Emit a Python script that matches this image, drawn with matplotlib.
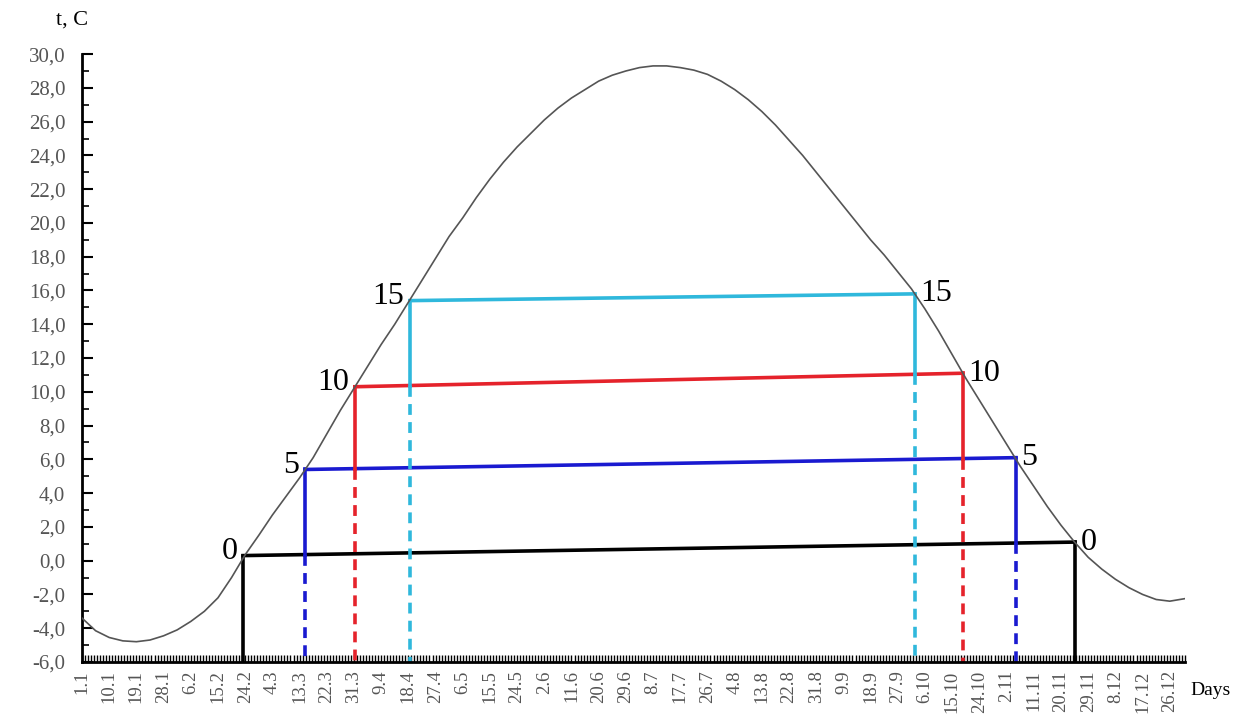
import numpy as np
import matplotlib.pyplot as plt
from matplotlib.ticker import FixedLocator, MultipleLocator, FuncFormatter

plt.rcParams['font.family'] = ['Liberation Serif', 'DejaVu Serif']

# mean daily air temperature every 4.5 days (leap year)
days = list(np.arange(1, 362, 4.5)) + [366]
temp = [-3.4, -4.15, -4.55, -4.75, -4.8, -4.7, -4.45, -4.1, -3.6, -3.0,
        -2.2, -1.0, 0.35, 1.5, 2.7, 3.8, 4.9, 6.1, 7.5, 8.9,
        10.2, 11.5, 12.8, 14.0, 15.3, 16.6, 17.9, 19.2, 20.3, 21.5,
        22.6, 23.6, 24.5, 25.3, 26.1, 26.8, 27.4, 27.9, 28.4, 28.75,
        29.0, 29.2, 29.3, 29.3, 29.2, 29.05, 28.8, 28.4, 27.9, 27.3,
        26.6, 25.8, 24.9, 24.0, 23.0, 22.0, 21.0, 20.0, 19.0, 18.1,
        17.1, 16.1, 14.9, 13.6, 12.2, 10.8, 9.5, 8.2, 6.9, 5.6,
        4.4, 3.2, 2.1, 1.1, 0.2, -0.5, -1.1, -1.6, -2.0, -2.3,
        -2.4, -2.25]

# tick labels every 9 days
tick_days = list(range(1, 362, 9))
tick_labels = ['1.1', '10.1', '19.1', '28.1', '6.2', '15.2', '24.2', '4.3', '13.3',
               '22.3', '31.3', '9.4', '18.4', '27.4', '6.5', '15.5', '24.5', '2.6',
               '11.6', '20.6', '29.6', '8.7', '17.7', '26.7', '4.8', '13.8', '22.8',
               '31.8', '9.9', '18.9', '27.9', '6.10', '15.10', '24.10', '2.11',
               '11.11', '20.11', '29.11', '8.12', '17.12', '26.12']

# threshold periods (0, 5, 10, 15 C): start/end day and line level
thresholds = ['0', '5', '10', '15']
start_day = [54.3, 74.8, 91.3, 109.5]
end_day = [329.6, 310.1, 292.5, 276.6]
start_t = [0.3, 5.4, 10.3, 15.4]
end_t = [1.1, 6.1, 11.1, 15.8]
colors = ['black', '#1a1ad0', '#e5232b', '#2fb8dc']

fig = plt.figure(figsize=(12.35, 7.28), dpi=100)
ax = fig.add_axes([0.0664, 0.0907, 0.893, 0.835])

ax.plot(days, temp, color='#555555', lw=1.2, zorder=3)

for i in range(4):
    c = colors[i]
    ax.plot([start_day[i], end_day[i]], [start_t[i], end_t[i]], color=c, lw=2.6, zorder=2)
    for d, t in [(start_day[i], start_t[i]), (end_day[i], end_t[i])]:
        if i == 0:
            ax.plot([d, d], [t, -6], color=c, lw=2.6, zorder=2)
        else:
            # level of the next lower line at this day
            f = (d - start_day[i-1]) / (end_day[i-1] - start_day[i-1])
            lo = start_t[i-1] + f * (end_t[i-1] - start_t[i-1])
            ax.plot([d, d], [t, lo], color=c, lw=2.6, zorder=2)
            ax.plot([d, d], [lo, -6], color=c, lw=2.6, ls=(0, (3, 2)), zorder=2)
    ax.annotate(thresholds[i], (start_day[i], start_t[i]), xytext=(-4, 3),
                textcoords='offset points', ha='right', va='center', fontsize=23)
    ax.annotate(thresholds[i], (end_day[i], end_t[i]), xytext=(4, 0),
                textcoords='offset points', ha='left', va='center', fontsize=23)

ax.set_xlim(1, 366)
ax.set_ylim(-6, 30)

for s in ['top', 'right']:
    ax.spines[s].set_visible(False)
for s in ['left', 'bottom']:
    ax.spines[s].set_linewidth(2)

ax.xaxis.set_major_locator(FixedLocator(tick_days))
ax.set_xticklabels(tick_labels, rotation=90)
ax.xaxis.set_minor_locator(MultipleLocator(1))
ax.yaxis.set_major_locator(MultipleLocator(2))
ax.yaxis.set_minor_locator(MultipleLocator(1))
ax.yaxis.set_major_formatter(FuncFormatter(lambda v, p: ('%.1f' % v).replace('.', ',')))

ax.tick_params(axis='x', which='both', direction='in', length=5, width=1,
               labelsize=13.5, labelcolor='#555555', pad=6)
ax.tick_params(axis='y', which='major', direction='in', length=8, width=1.5,
               labelsize=15, labelcolor='#555555', pad=12)
ax.tick_params(axis='y', which='minor', direction='in', length=5, width=1.2)

fig.text(0.045, 0.972, 't, C', fontsize=16, ha='left', va='center')
fig.text(0.980, 0.052, 'Days', fontsize=14, ha='center', va='center')

fig.savefig('out.png', dpi=100)
